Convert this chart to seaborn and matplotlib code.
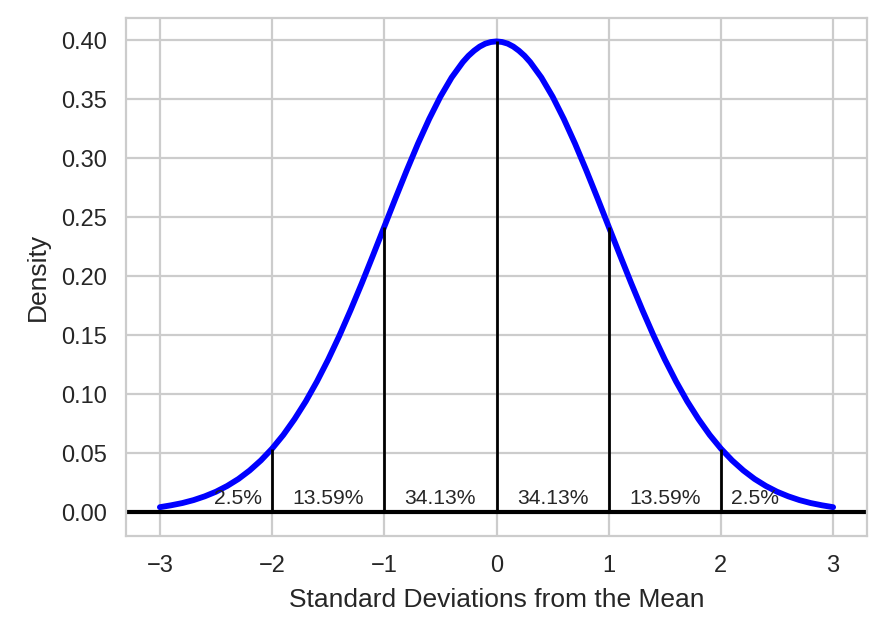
import matplotlib
matplotlib.use('Agg')

import pandas as pd
import seaborn as sns
import matplotlib.pyplot as plt

# density, every 0.1 sd (0.05 near the peak)
sd_x = [-3.0, -2.9, -2.8, -2.7, -2.6, -2.5, -2.4, -2.3, -2.2, -2.1,
        -2.0, -1.9, -1.8, -1.7, -1.6, -1.5, -1.4, -1.3, -1.2, -1.1,
        -1.0, -0.9, -0.8, -0.7, -0.6, -0.5, -0.4, -0.3, -0.25, -0.2, -0.15, -0.1, -0.05,
        0.0, 0.05, 0.1, 0.15, 0.2, 0.25, 0.3, 0.4, 0.5, 0.6, 0.7, 0.8, 0.9,
        1.0, 1.1, 1.2, 1.3, 1.4, 1.5, 1.6, 1.7, 1.8, 1.9,
        2.0, 2.1, 2.2, 2.3, 2.4, 2.5, 2.6, 2.7, 2.8, 2.9, 3.0]
density = [0.0044, 0.0060, 0.0079, 0.0104, 0.0136, 0.0175, 0.0224, 0.0283, 0.0355, 0.0440,
           0.0540, 0.0656, 0.0790, 0.0940, 0.1109, 0.1295, 0.1497, 0.1714, 0.1942, 0.2179,
           0.2420, 0.2661, 0.2897, 0.3123, 0.3332, 0.3521, 0.3683, 0.3814, 0.3867, 0.3910, 0.3945, 0.3970, 0.3984,
           0.3989, 0.3984, 0.3970, 0.3945, 0.3910, 0.3867, 0.3814, 0.3683, 0.3521, 0.3332, 0.3123, 0.2897, 0.2661,
           0.2420, 0.2179, 0.1942, 0.1714, 0.1497, 0.1295, 0.1109, 0.0940, 0.0790, 0.0656,
           0.0540, 0.0440, 0.0355, 0.0283, 0.0224, 0.0175, 0.0136, 0.0104, 0.0079, 0.0060, 0.0044]

line_x = [-2, -1, 0, 1, 2]
line_top = [0.0540, 0.2420, 0.3989, 0.2420, 0.0540]

label_x = [-2.3, -1.5, -0.5, 0.5, 1.5, 2.3]
label_text = ['2.5%', '13.59%', '34.13%', '34.13%', '13.59%', '2.5%']

xticks = [-3, -2, -1, 0, 1, 2, 3]
yticks = [0.00, 0.05, 0.10, 0.15, 0.20, 0.25, 0.30, 0.35, 0.40]

sns.set_style("whitegrid")
plt.rcParams['font.family'] = ['Liberation Sans', 'DejaVu Sans']

df = pd.DataFrame({'sd': sd_x, 'density': density})

fig, ax = plt.subplots(figsize=(4.445, 3.19), dpi=200)
fig.subplots_adjust(left=0.142, right=0.975, top=0.972, bottom=0.160)

sns.lineplot(data=df, x='sd', y='density', color='blue', linewidth=2.1, ax=ax,
             solid_capstyle='round', solid_joinstyle='round')
ax.vlines(line_x, 0, line_top, color='black', linewidth=1)
ax.axhline(0, color='black', linewidth=1.5)

for x, t in zip(label_x, label_text):
    ax.text(x, 0.004, t, ha='center', va='bottom', fontsize=7.6, color='#262626')

ax.set_xticks(xticks)
ax.set_yticks(yticks)
ax.set_xticklabels(['\u22123', '\u22122', '\u22121', '0', '1', '2', '3'])
ax.set_yticklabels([f'{v:.2f}' for v in yticks])
ax.tick_params(labelsize=8.5, colors='#262626')
ax.set_xlabel('Standard Deviations from the Mean', fontsize=9.5)
ax.set_ylabel('Density', fontsize=9.5)

fig.savefig('out.png', dpi=200)
plt.close(fig)
